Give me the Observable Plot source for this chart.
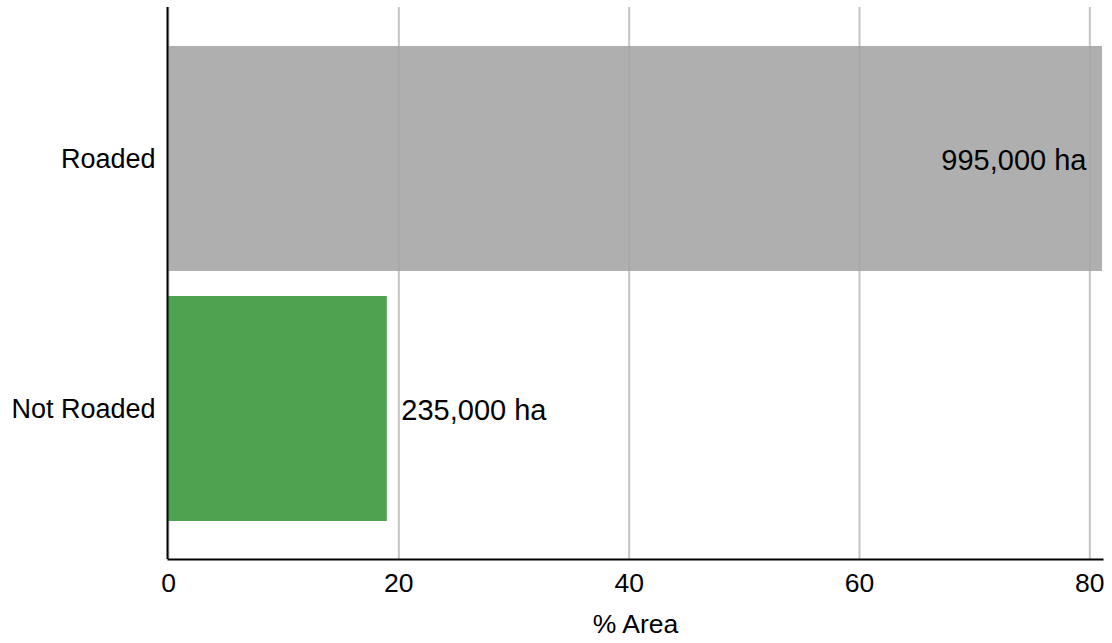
<!DOCTYPE html>
<html>
<head>
<meta charset="utf-8">
<script src="https://cdn.jsdelivr.net/npm/d3@7"></script>
<script src="https://cdn.jsdelivr.net/npm/@observablehq/plot@0.6"></script>
<style>
  html, body { margin: 0; padding: 0; background: #fff; }
  #chart svg { display: block; }
</style>
</head>
<body>
<div id="chart"></div>
<script>
const categories = ["Roaded", "Not Roaded"];
const percentArea = [81.1, 19.0];
const areaLabels = ["995,000 ha", "235,000 ha"];
const barColors = ["#afafaf", "#4fa24f"];
const xTicks = [0, 20, 40, 60, 80];
const xLabel = "% Area";

const data = categories.map((c, i) => ({
  category: c, value: percentArea[i], label: areaLabels[i], color: barColors[i]
}));

const chart = Plot.plot({
  width: 1112,
  height: 643,
  marginLeft: 168,
  marginRight: 10,
  marginTop: 7,
  marginBottom: 84,
  style: { fontFamily: "'Liberation Sans', Arial, sans-serif", fontSize: "26px", color: "#000", background: "#fff" },
  x: { domain: [0, 81.1], ticks: xTicks, label: null },
  y: { domain: categories, paddingInner: 0.1, paddingOuter: 0.15, label: null },
  marks: [
    Plot.ruleX(xTicks, { stroke: "#cccccc", strokeWidth: 2 }),
    Plot.barX(data, { x: "value", y: "category", fill: "color" }),
    Plot.ruleX(xTicks, { stroke: "#000", strokeOpacity: 0.04, strokeWidth: 2 }),
    Plot.axisX({ ticks: xTicks, tickSize: 0, tickPadding: 14, fontSize: 26.5, label: null }),
    Plot.axisY({ tickSize: 0, tickPadding: 13, fontSize: 27, label: null }),
    Plot.text(data.filter(d => d.value > 50), { x: "value", y: "category", text: "label", textAnchor: "end", dx: -16, dy: 2, fontSize: 29, fill: "#000" }),
    Plot.text(data.filter(d => d.value <= 50), { x: "value", y: "category", text: "label", textAnchor: "start", dx: 14, dy: 2, fontSize: 29, fill: "#000" }),
    Plot.text([xLabel], { text: d => d, frameAnchor: "bottom", dy: 73, fontSize: 26.5, fill: "#000" }),
    Plot.ruleX([0], { stroke: "#000", strokeWidth: 2, dx: -1 }),
    Plot.frame({ anchor: "bottom", stroke: "#000", strokeWidth: 2 })
  ]
});
document.getElementById("chart").appendChild(chart);
</script>
</body>
</html>
